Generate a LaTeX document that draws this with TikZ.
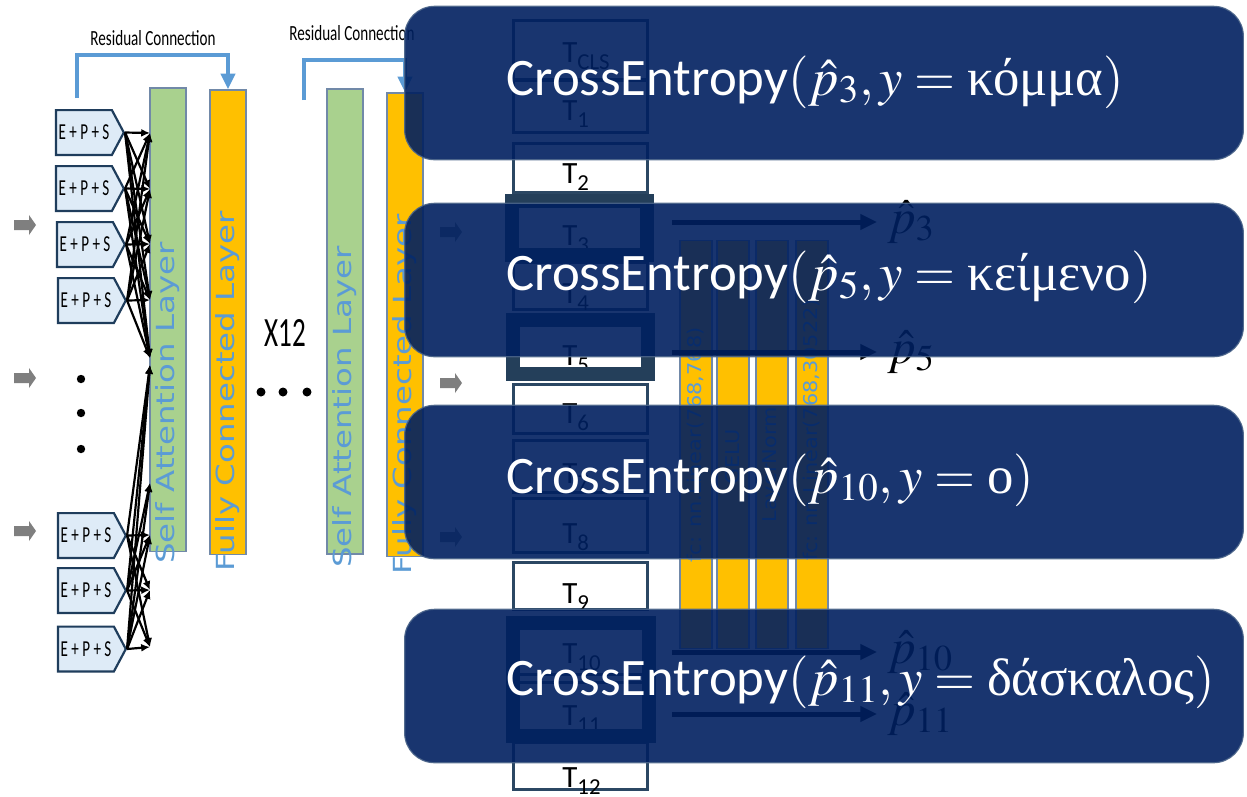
\documentclass[tikz,border=0pt]{standalone}
\usepackage{mathptmx}
\usepackage{fontspec}
\usepackage{graphicx}
\setmainfont{Carlito}
\newfontfamily\vsans{DejaVu Sans}
\newfontfamily\grk{Liberation Serif}
\usetikzlibrary{arrows.meta,shapes.symbols}

\definecolor{resblue}{HTML}{5B9BD5}
\definecolor{attgreen}{HTML}{A9D18E}
\definecolor{fcyellow}{HTML}{FFC000}
\definecolor{barline}{HTML}{7189A8}
\definecolor{embfill}{HTML}{DEEBF7}
\definecolor{embline}{HTML}{1F3D5C}
\definecolor{tokline}{HTML}{2B4763}
\definecolor{maskline}{HTML}{243F5A}
\definecolor{navy}{HTML}{002060}
\definecolor{navyedge}{HTML}{4A6489}
\definecolor{arrowgray}{HTML}{7F7F7F}

\newcommand\pxu{0.56693pt}
\newcommand\fsz[1]{\fontsize{#1}{#1}\selectfont}
\newcommand\tok[1]{T\raisebox{-4pt}{\fsz{13}#1}}

\tikzset{
  greenbar/.style={fill=attgreen, draw=barline, line width=1.2*\pxu, minimum width=36*\pxu, inner sep=0},
  yellowbar/.style={fill=fcyellow, draw=barline, line width=1.2*\pxu, minimum width=36*\pxu, inner sep=0},
  headbar/.style={fill=fcyellow, draw=barline, line width=1.2*\pxu, minimum width=32*\pxu, minimum height=409*\pxu, inner sep=0},
  barlabel/.style={rotate=90, text=resblue, font=\vsans\fsz{14.2}, inner sep=0},
  headlabel/.style={rotate=90, text=resblue, font=\vsans\fsz{10.8}, inner sep=0},
  reslabel/.style={font=\fsz{12.3}, inner sep=0},
  resarrow/.style={draw=resblue, line width=5*\pxu, -{Triangle[length=9pt,width=8pt]}},
  emb/.style={signal, signal to=east, signal pointer angle=124, fill=embfill, draw=embline,
    line width=2.2*\pxu, minimum width=68*\pxu, minimum height=45*\pxu, inner sep=0, font=\fsz{13}},
  fan/.style={draw=black, line width=2.2*\pxu, -{Latex[length=5pt,width=4.5pt]}},
  tokbox/.style={draw=tokline, line width=3*\pxu, fill=white, minimum width=135*\pxu, inner sep=0},
  toklabel/.style={anchor=base west, font=\fsz{17.6}, inner sep=0},
  maskframe/.style={draw=maskline, line width=14*\pxu, inner sep=0},
  outarrow/.style={draw=black, line width=5*\pxu, -{Triangle[length=9.5pt,width=8.5pt]}},
  plab/.style={anchor=base west, font=\fsz{28}, inner sep=0},
  lossbox/.style={fill=navy, fill opacity=0.9, draw=navyedge, draw opacity=0.9,
    line width=1.2*\pxu, rounded corners=30*\pxu, minimum width=842*\pxu, minimum height=154*\pxu, inner sep=0},
  losstext/.style={anchor=base west, text=white, font=\fsz{30}, inner sep=0}
}

\begin{document}
\begin{tikzpicture}[x=0.02cm, y=-0.02cm]
\fill[white] (0,0) rectangle (1247,796);
\useasboundingbox (0,0) rectangle (1247,796);

% ---------- encoder stack ----------
\node[reslabel] (rc1) at (153,38) {\scalebox{0.7}[1]{Residual Connection}};
\node[reslabel] (rc2) at (352,33) {\scalebox{0.7}[1]{Residual Connection}};

\node[greenbar, minimum height=465*\pxu] (sa1) at (168,319.5) {};
\node[yellowbar, minimum height=466*\pxu] (fc1) at (228,322) {};
\node[greenbar, minimum height=467*\pxu] (sa2) at (345,321.5) {};
\node[yellowbar, minimum height=465*\pxu] (fc2) at (405,324.5) {};

\node[barlabel] (sa1t) at (168,403) {\scalebox{1.3}[1]{Self Attention Layer}};
\node[barlabel] (fc1t) at (228,391) {\scalebox{1.3}[1]{Fully Connected Layer}};
\node[barlabel] (sa2t) at (345,407) {\scalebox{1.3}[1]{Self Attention Layer}};
\node[barlabel] (fc2t) at (405,394) {\scalebox{1.3}[1]{Fully Connected Layer}};

\coordinate (r1s) at (77,98);
\draw[resarrow] (r1s) -- ++(0,-43) -| (fc1.north);
\coordinate (r2s) at (304,100);
\draw[resarrow] (r2s) -- ++(0,-40) -| (fc2.north);

% input embeddings
\foreach \n/\xx/\yy in {e1/84/132.5, e2/84/188.5, e3/85/244.5, e4/86/300.5,
                        e5/86/535.5, e6/86/590.5, e7/86/649}
  \node[emb] (\n) at (\xx,\yy) {\scalebox{0.66}[1]{E + P + S}};

% attention targets on the left edge of the first attention layer
\foreach \n/\yy in {a1/133, a2/189, a3/244, a4/300, ad/358, bd/365, bm/483,
                    a5/535, a6/590, a7/647}
  \coordinate (\n) at (150,\yy);

\foreach \s in {e1,e2,e3,e4}
  \foreach \t in {a1,a2,a3,a4,ad}
    \draw[fan] (\s.east) -- (\t);
\foreach \s in {e5,e6,e7}
  \foreach \t in {bd,a5,a6,a7}
    \draw[fan] (\s.east) -- (\t);
\foreach \s in {e6,e7}
  \draw[fan] (\s.east) -- (bm);

% input pointers
\foreach \yy in {225,378,531}
  \fill[arrowgray] (14,\yy-5) -- (29,\yy-5) -- (29,\yy-10) -- (36,\yy)
     -- (29,\yy+10) -- (29,\yy+5) -- (14,\yy+5) -- cycle;
\foreach \yy in {232,383,537}
  \fill[arrowgray] (440,\yy-5) -- (455,\yy-5) -- (455,\yy-10) -- (462,\yy)
     -- (455,\yy+10) -- (455,\yy+5) -- (440,\yy+5) -- cycle;

% ellipses
\foreach \yy in {379,413,449}
  \fill (81,\yy) circle[radius=4.2];
\foreach \xx in {261,283,307}
  \fill (\xx,392) circle[radius=4.5];
\node[font=\fsz{23.7}, inner sep=0] (x12) at (285,333) {\scalebox{0.65}[1]{X12}};

% ---------- output tokens ----------
\foreach \n/\t/\b/\bl/\s in {tcls/20/80/62/CLS, t1/80/133/120/1, t2/143/193/183/2,
    t3/200/255/245/3, t4/262/310/303/4, t5/319/375/365/5, t6/384/434/423/6,
    t7/440/493/483/7, t8/498/553/543/8, t9/562/610/603/9, t10/620/675/663/10,
    t11/682/737/725/11, t12/742/790/787/12} {
  \node[tokbox, minimum height={(\b-\t)*\pxu}] (\n) at (580.5,{(\t+\b)/2}) {};
  \node[toklabel] (\n l) at (562,\bl) {\tok{\s}};
}

% masked positions
\node[maskframe, minimum width=135*\pxu, minimum height=54*\pxu] (m3) at (579.5,228) {};
\node[maskframe, minimum width=135*\pxu, minimum height=54*\pxu] (m5) at (580.5,347) {};
\node[maskframe, minimum width=136*\pxu, minimum height=113*\pxu] (m1011) at (581,679.5) {};

% ---------- MLM head ----------
\node[headbar] (hb1) at (696,444.5) {};
\node[headbar] (hb2) at (733,444.5) {};
\node[headbar] (hb3) at (772,444.5) {};
\node[headbar] (hb4) at (812,444.5) {};
\node[headlabel] (hl1) at (696,445) {\scalebox{1.1}[1]{fc: nn.Linear(768,768)}};
\node[headlabel] (hl2) at (733,457) {\scalebox{1.1}[1]{GELU}};
\node[headlabel] (hl3) at (772,465) {\scalebox{1.1}[1]{LayerNorm}};
\node[headlabel] (hl4) at (812,430) {\scalebox{1.1}[1]{fc: nn.Linear(768,30522)}};

\foreach \n/\yy/\s in {3/222/3, 5/352/5, 10/652/10, 11/714/11} {
  \coordinate (o\n s) at (672,\yy);
  \coordinate (o\n e) at (877,\yy);
  \draw[outarrow] (o\n s) -- (o\n e);
  \node[plab] (p\n) at (887,\yy+11) {$\hat{p}_{\s}$};
}

% ---------- loss boxes ----------
\node[lossbox] (ov1) at (824,83) {};
\node[lossbox] (ov2) at (824,280) {};
\node[lossbox] (ov3) at (824,482) {};
\node[lossbox] (ov4) at (824,686) {};

\node[losstext] (ce1) at (506,95) {CrossEntropy$(\hat{p}_{3}, y = \mbox{\grk κόμμα})$};
\node[losstext] (ce2) at (506,290) {CrossEntropy$(\hat{p}_{5}, y = \mbox{\grk κείμενο})$};
\node[losstext] (ce3) at (506,493) {CrossEntropy$(\hat{p}_{10}, y = \mbox{\grk ο})$};
\node[losstext] (ce4) at (506,695) {CrossEntropy$(\hat{p}_{11}, y = \mbox{\grk δάσκαλος})$};
\end{tikzpicture}
\end{document}
